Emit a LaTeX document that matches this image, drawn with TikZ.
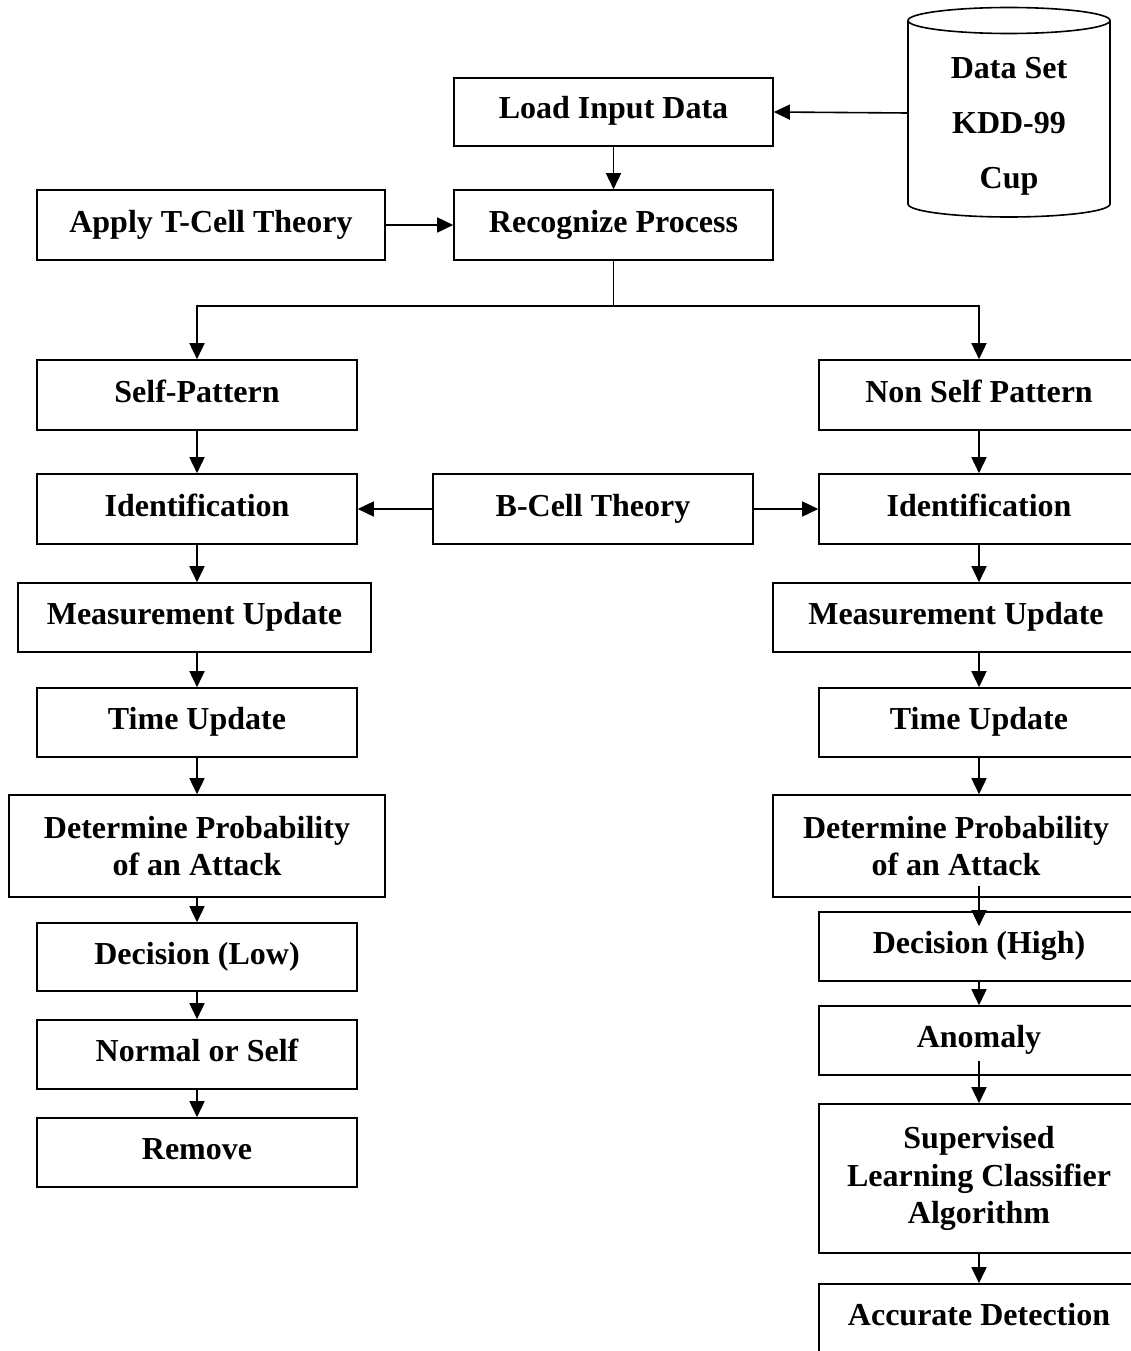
\documentclass[tikz,border=0pt]{standalone}
\usepackage{fontspec}
\setmainfont{Liberation Serif}
\usetikzlibrary{arrows.meta}
\begin{document}
\begin{tikzpicture}[x=1pt,y=-1pt,
  box/.style={draw,line width=1.6pt,align=center,inner sep=0pt,
    font=\bfseries\fontsize{32}{37.5}\selectfont},
  one/.style={box,text height=23pt,text depth=9pt},
  arr/.style={line width=1.6pt,-{Triangle[length=16pt,width=15pt]}},
  ln/.style={line width=1.6pt}]
\fill[white] (0,0) rectangle (1130,1351);
\useasboundingbox (0,0) rectangle (1130,1351);
% cylinder
\draw[line width=1.6pt] (908,20.5) -- (908,204) arc[start angle=180,end angle=360,x radius=101,y radius=-13] -- (1110,20.5);
\draw[line width=1.6pt] (1009,20.5) ellipse[x radius=101,y radius=13];
\node[font=\bfseries\fontsize{32}{55}\selectfont,align=center] (dstext) at (1009,126) {Data Set\\KDD-99\\Cup};
\coordinate (dsw) at (908,113);
% nodes
\node[one,minimum width=319pt,minimum height=68pt] (load) at (613.5,112) {Load Input Data};
\node[one,minimum width=319pt,minimum height=70pt] (rec) at (613.5,225) {Recognize Process};
\node[one,minimum width=348pt,minimum height=70pt] (tcell) at (211,225) {Apply T-Cell Theory};
\node[one,minimum width=320pt,minimum height=70pt] (self) at (197,395) {Self-Pattern};
\node[one,minimum width=320pt,minimum height=70pt] (nonself) at (979,395) {Non Self Pattern};
\node[one,minimum width=320pt,minimum height=70pt] (idl) at (197,509) {Identification};
\node[one,minimum width=320pt,minimum height=70pt] (bcell) at (593,509) {B-Cell Theory};
\node[one,minimum width=320pt,minimum height=70pt] (idr) at (979,509) {Identification};
\node[one,minimum width=353pt,minimum height=69pt] (meal) at (194.5,617.5) {Measurement Update};
\node[one,minimum width=366pt,minimum height=69pt] (mear) at (956,617.5) {Measurement Update};
\node[one,minimum width=320pt,minimum height=69pt] (timel) at (197,722.5) {Time Update};
\node[one,minimum width=320pt,minimum height=69pt] (timer) at (979,722.5) {Time Update};
\node[box,minimum width=376pt,minimum height=102pt] (detl) at (197,846) {Determine Probability\\of an Attack};
\node[box,minimum width=366pt,minimum height=102pt] (detr) at (956,846) {Determine Probability\\of an Attack};
\node[one,minimum width=320pt,minimum height=68pt] (decl) at (197,957) {Decision (Low)};
\node[one,minimum width=320pt,minimum height=69pt] (decr) at (979,946.5) {Decision (High)};
\node[one,minimum width=320pt,minimum height=69pt] (norm) at (197,1054.5) {Normal or Self};
\node[one,minimum width=320pt,minimum height=69pt] (rem) at (197,1152.5) {Remove};
\node[one,minimum width=320pt,minimum height=69pt] (anom) at (979,1040.5) {Anomaly};
\node[box,minimum width=320pt,minimum height=149pt] (sup) at (979,1178.5) {Supervised\\Learning Classifier\\Algorithm};
\node[one,minimum width=320pt,minimum height=68pt] (acc) at (979,1318) {Accurate Detection};
% connectors
\draw[arr] (dsw) -- (load.east);
\draw[arr] (load) -- (rec);
\draw[arr] (tcell) -- (rec);
\draw[ln] (rec.south) -- ++(0,45) coordinate (split);
\draw[arr] (split) -| (self.north);
\draw[arr] (split) -| (nonself.north);
\draw[arr] (self) -- (idl);
\draw[arr] (nonself) -- (idr);
\draw[arr] (bcell) -- (idl);
\draw[arr] (bcell) -- (idr);
\draw[arr] (idl.south) -- (idl.south |- meal.north);
\draw[arr] (idr.south) -- (idr.south |- mear.north);
\draw[arr] (meal.south -| timel.north) -- (timel.north);
\draw[arr] (mear.south -| timer.north) -- (timer.north);
\draw[arr] (timel) -- (detl);
\draw[arr] (timer.south) -- (timer.south |- detr.north);
\draw[arr] (detl) -- (decl);
\path (decr.north |- detr.south) ++(0,-12) coordinate (c1);
\draw[arr] (c1) -- ([yshift=-15pt]decr.north);
\draw[arr] (decl) -- (norm);
\draw[arr] (norm) -- (rem);
\draw[arr] (decr) -- (anom);
\draw[arr] ([yshift=15pt]anom.south) -- (sup.north);
\draw[arr] (sup) -- (acc);
\end{tikzpicture}
\end{document}
